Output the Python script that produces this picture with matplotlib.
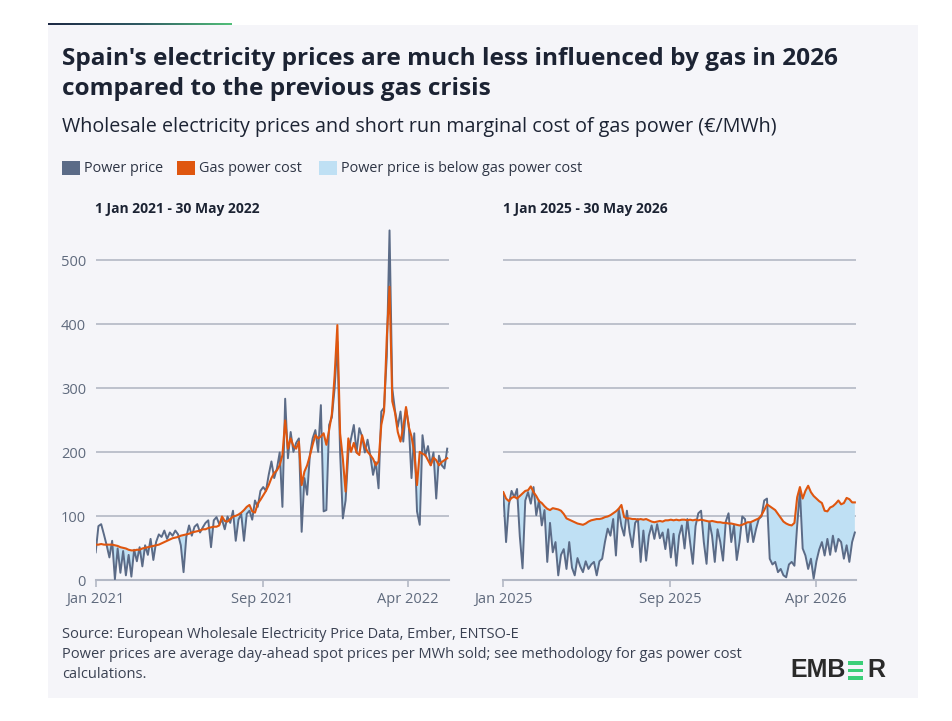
import numpy as np
import pandas as pd
import matplotlib
matplotlib.use('Agg')
import matplotlib.pyplot as plt
from matplotlib.patches import Rectangle
from matplotlib.colors import LinearSegmentedColormap

plt.rcParams['font.family'] = ['Open Sans', 'DejaVu Sans']

# values, one sample every 4 days (EUR/MWh)
dates_2021 = pd.date_range('2021-01-01', '2022-05-30', freq='4D')
power_2021 = [44, 85, 88, 72, 55, 36, 62, 2, 50, 12, 46, 8, 40, 6, 48, 30, 52, 22, 55, 40,
              65, 32, 60, 72, 68, 78, 65, 75, 70, 78, 72, 55, 13, 68, 86, 70, 84, 88, 75, 83,
              90, 94, 52, 94, 99, 88, 95, 80, 100, 90, 109, 62, 95, 104, 62, 104, 109, 95, 125, 115,
              140, 146, 140, 165, 186, 160, 175, 200, 115, 284, 191, 232, 201, 215, 222, 76, 160, 134, 196, 222,
              235, 201, 274, 108, 110, 243, 255, 300, 373, 200, 97, 125, 200, 222, 243, 200, 238, 225, 200, 220,
              195, 165, 185, 144, 264, 270, 350, 547, 300, 265, 240, 264, 217, 269, 243, 160, 230, 108, 87, 227,
              195, 210, 180, 200, 128, 195, 180, 175, 206]
gas_2021 = [56, 56, 57, 56, 56, 56, 56, 55, 54, 52, 51, 50, 48, 47, 47, 48, 48, 50, 51, 52,
            53, 54, 55, 56, 58, 60, 62, 64, 66, 67, 68, 70, 71, 72, 73, 75, 76, 77, 78, 80,
            80, 82, 83, 84, 84, 86, 100, 93, 92, 96, 100, 101, 103, 106, 110, 115, 118, 108, 106, 120,
            126, 133, 140, 149, 160, 168, 172, 180, 196, 250, 206, 222, 210, 206, 217, 149, 170, 180, 195, 212,
            227, 222, 225, 230, 212, 235, 260, 320, 399, 230, 190, 139, 222, 201, 215, 200, 196, 227, 210, 201,
            196, 190, 180, 186, 243, 264, 380, 459, 280, 262, 232, 217, 240, 271, 240, 225, 200, 149, 201, 198,
            196, 188, 180, 192, 188, 180, 185, 188, 191]

dates_2025 = pd.date_range('2025-01-01', '2026-05-30', freq='4D')
power_2025 = [136, 60, 118, 140, 130, 143, 69, 19, 125, 138, 120, 146, 102, 125, 86, 110, 29, 90, 44, 60,
              8, 40, 49, 18, 60, 20, 8, 35, 22, 13, 30, 18, 25, 29, 8, 30, 34, 60, 81, 70,
              96, 39, 112, 85, 70, 109, 75, 52, 90, 96, 29, 78, 31, 70, 86, 65, 88, 66, 75, 49,
              80, 36, 73, 23, 70, 86, 50, 96, 60, 26, 85, 105, 109, 60, 26, 92, 70, 29, 80, 60,
              31, 92, 105, 60, 86, 32, 60, 100, 96, 60, 90, 60, 80, 96, 100, 125, 128, 34, 25, 29,
              13, 18, 8, 5, 25, 29, 23, 86, 140, 50, 39, 18, 34, 3, 30, 48, 60, 39, 65, 40,
              70, 45, 65, 60, 34, 55, 29, 60, 75]
gas_2025 = [138, 128, 124, 129, 131, 128, 132, 136, 140, 141, 147, 138, 132, 124, 121, 116, 112, 110, 113, 112,
            111, 109, 104, 97, 95, 93, 91, 89, 88, 87, 89, 92, 94, 95, 96, 96, 97, 99, 100, 102,
            105, 108, 112, 118, 99, 97, 97, 96, 96, 95, 96, 95, 96, 94, 92, 91, 92, 93, 92, 94,
            94, 95, 94, 95, 94, 95, 95, 94, 95, 94, 95, 94, 95, 94, 93, 92, 93, 92, 91, 91,
            90, 90, 89, 89, 88, 87, 86, 87, 89, 91, 91, 93, 95, 97, 102, 110, 119, 116, 113, 110,
            104, 98, 92, 89, 87, 86, 90, 130, 146, 128, 140, 148, 138, 132, 128, 124, 121, 109, 108, 114,
            116, 120, 125, 119, 121, 129, 127, 122, 122]

ticks_2021 = ['2021-01-01', '2021-09-01', '2022-04-01']
ticks_2025 = ['2025-01-01', '2025-09-01', '2026-04-01']
y_ticks = [0, 100, 200, 300, 400, 500]

POWER = '#5b6b87'
GAS = '#df560f'
FILL = '#bfe0f4'
GRID = '#b3b8c5'
CARD = '#f5f5f9'
DARK = '#1c2333'
TICK = '#5f6a7d'

fig = plt.figure(figsize=(9.52, 7.21), dpi=100)

# background layer in pixel coordinates
bg = fig.add_axes([0, 0, 1, 1], zorder=0)
bg.axis('off')
bg.add_patch(Rectangle((48, 25), 870, 673, color=CARD, lw=0))
bar_cmap = LinearSegmentedColormap.from_list('bar', ['#1d2944', '#2f5a63', '#52c07a'])
bg.imshow(np.linspace(0, 1, 256).reshape(1, -1), cmap=bar_cmap, aspect='auto',
          extent=(48, 232, 27, 23))
bg.set_xlim(0, 952)
bg.set_ylim(721, 0)

bg.text(62, 59, "Spain's electricity prices are much less influenced by gas in 2026",
        fontsize=17.6, fontweight='bold', color=DARK, va='center')
bg.text(62, 89, "compared to the previous gas crisis",
        fontsize=17.6, fontweight='bold', color=DARK, va='center')
bg.text(62, 127, "Wholesale electricity prices and short run marginal cost of gas power (€/MWh)",
        fontsize=14.2, color=DARK, va='center')

legend_items = [(62, POWER, 'Power price'), (177, GAS, 'Gas power cost'),
                (319, FILL, 'Power price is below gas power cost')]
for x0, c, label in legend_items:
    bg.add_patch(Rectangle((x0, 161), 18, 14, color=c, lw=0))
    bg.text(x0 + 22, 168, label, fontsize=10.4, color='#2e3545', va='center')

bg.text(95, 209, '1 Jan 2021 - 30 May 2022', fontsize=10, fontweight='bold', color=DARK, va='center')
bg.text(503, 209, '1 Jan 2025 - 30 May 2026', fontsize=10, fontweight='bold', color=DARK, va='center')

footer = ['Source: European Wholesale Electricity Price Data, Ember, ENTSO-E',
          'Power prices are average day-ahead spot prices per MWh sold; see methodology for gas power cost',
          'calculations.']
for k, line in enumerate(footer):
    bg.text(62, 634 + 20.5 * k, line, fontsize=10.5, color='#3a4152', va='center')

# EMBER logo
bg.text(790, 670, 'EMB', fontsize=18, fontweight='bold', color='#2a2a2a', va='center',
        family='Liberation Sans')
for yb in (663, 670.5, 678):
    bg.add_patch(Rectangle((848, yb - 1.6), 15, 3.4, color='#3bcf78', lw=0))
bg.text(867, 670, 'R', fontsize=18, fontweight='bold', color='#2a2a2a', va='center',
        family='Liberation Sans')

panels = [(0.1005, dates_2021, power_2021, gas_2021, ticks_2021, True, ('2021-01-01', '2022-05-30')),
          (0.5287, dates_2025, power_2025, gas_2025, ticks_2025, False, ('2025-01-01', '2026-05-30'))]

for left, dates, power, gas, ticks, show_y, lims in panels:
    ax = fig.add_axes([left, 0.1949, 0.3707, 0.4882], zorder=2)
    ax.set_facecolor('none')
    p = np.array(power, dtype=float)
    g = np.array(gas, dtype=float)
    ax.fill_between(dates, p, g, where=p < g, interpolate=True, color=FILL, lw=0, zorder=1)
    ax.plot(dates, p, color=POWER, lw=1.4, zorder=3)
    ax.plot(dates, g, color=GAS, lw=1.5, zorder=4)
    ax.set_xlim(pd.Timestamp(lims[0]), pd.Timestamp(lims[1]))
    ax.set_ylim(0, 550)
    ax.set_yticks(y_ticks)
    ax.grid(axis='y', color=GRID, lw=1.2)
    ax.set_axisbelow(True)
    for side in ('left', 'right', 'top'):
        ax.spines[side].set_visible(False)
    ax.spines['bottom'].set_color(GRID)
    ax.spines['bottom'].set_linewidth(1.5)
    tick_dates = pd.to_datetime(ticks)
    ax.set_xticks(tick_dates)
    ax.set_xticklabels([d.strftime('%b %Y') for d in tick_dates])
    ax.tick_params(axis='x', length=5, width=1.2, color=GRID, labelcolor=TICK,
                   labelsize=10.5, pad=3)
    ax.tick_params(axis='y', length=0, labelcolor=TICK, labelsize=10.5, pad=7)
    if not show_y:
        ax.set_yticklabels([])

fig.savefig('out.png', dpi=100, facecolor='white')
